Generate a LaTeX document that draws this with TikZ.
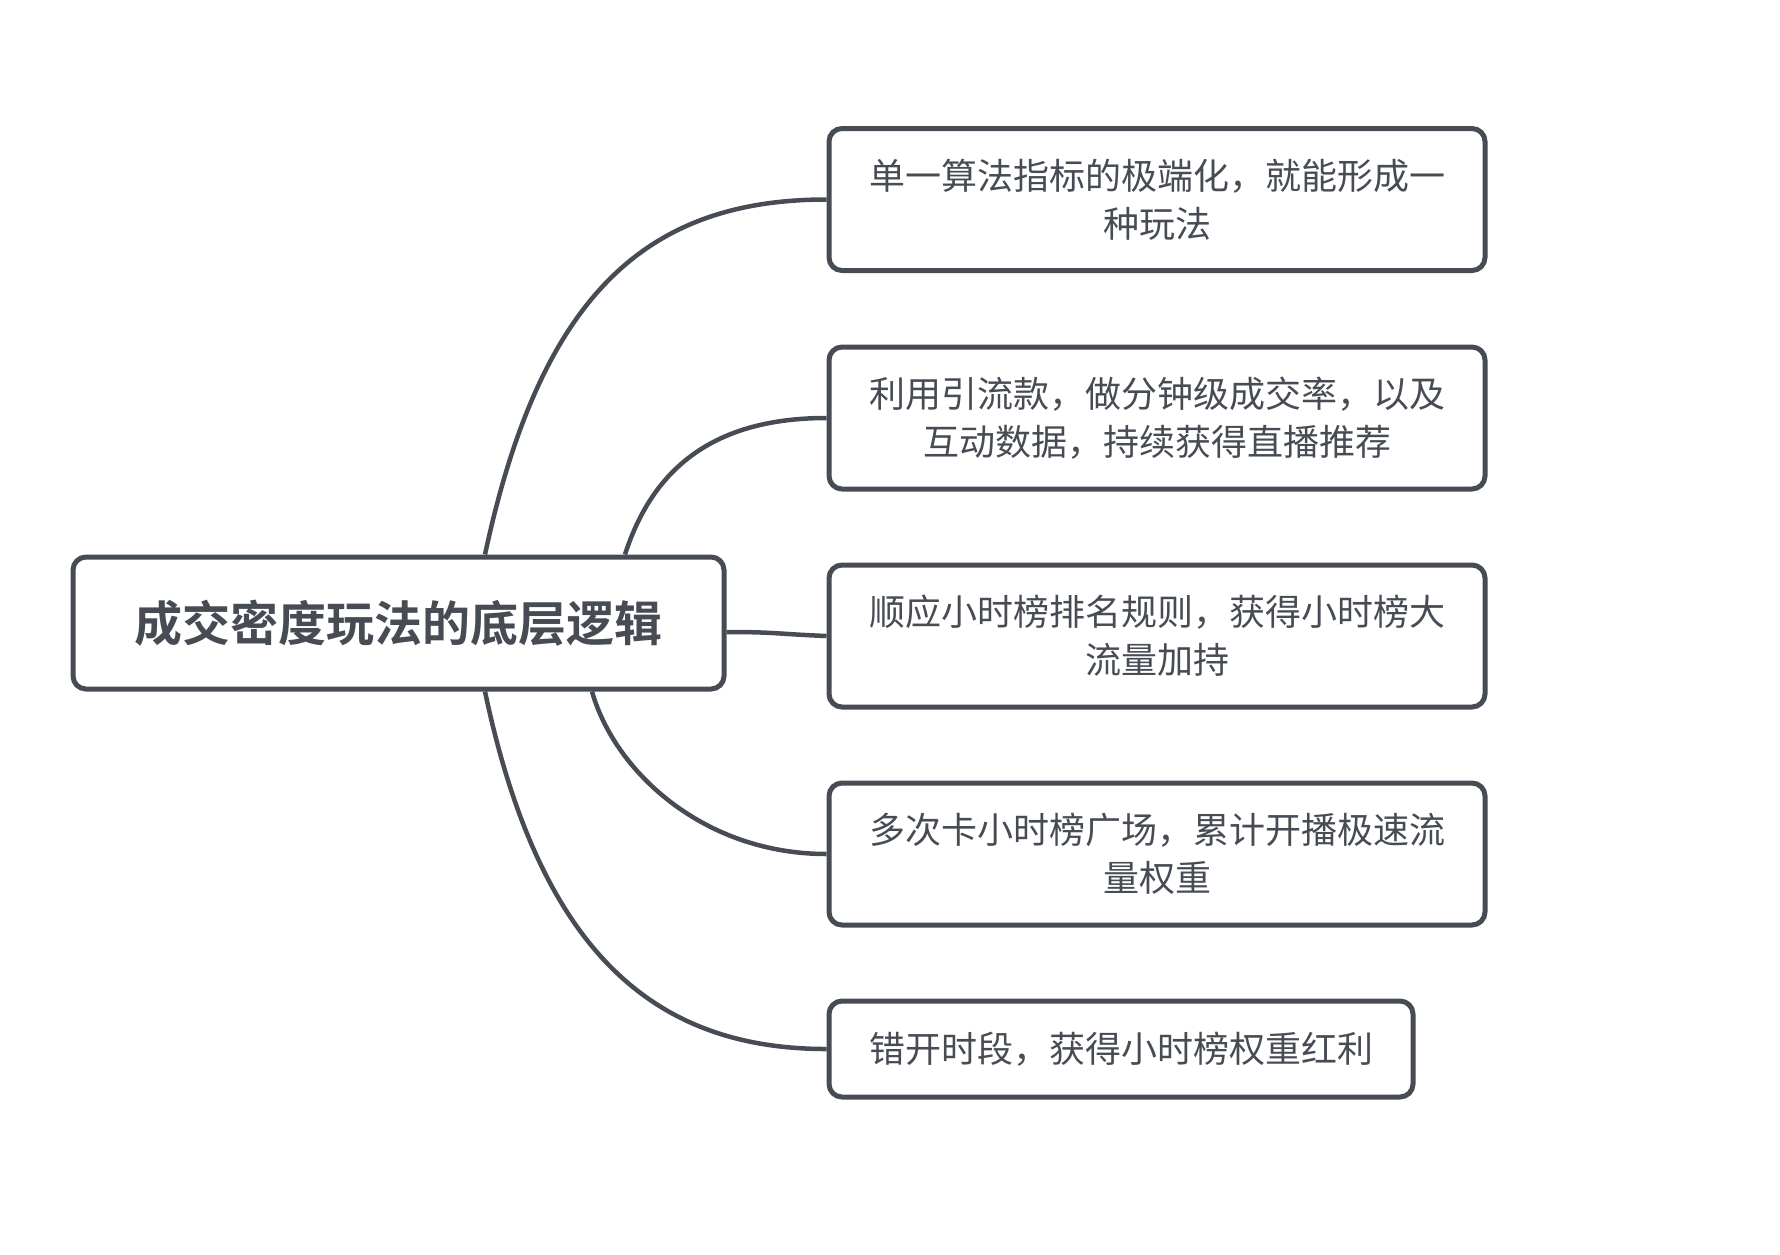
\documentclass[tikz,border=0pt]{standalone}
\usepackage{fontspec}
\setmainfont{Noto Sans CJK SC}
\newfontfamily\cjkbold{Noto Sans CJK SC Bold}
\definecolor{ink}{HTML}{474C54}
\begin{document}
\begin{tikzpicture}[x=1pt,y=-1pt,
  box/.style={draw=ink,line width=5pt,rounded corners=13pt,fill=white,
    inner sep=0pt,text=ink,align=center,
    font=\fontsize{36pt}{48pt}\selectfont},
  leaf/.style={box,minimum width=656pt,minimum height=142pt},
  link/.style={draw=ink,line width=4.5pt}]
\useasboundingbox (0,0) rectangle (1780,1254);
\node[box,minimum width=651pt,minimum height=132pt,
  font=\fontsize{48pt}{56pt}\cjkbold] (main) at (398.5,623) {成交密度玩法的底层逻辑};
\node[leaf] (b1) at (1157,199.5) {单一算法指标的极端化，就能形成一\\种玩法};
\node[leaf] (b2) at (1157,418) {利用引流款，做分钟级成交率，以及\\互动数据，持续获得直播推荐};
\node[leaf] (b3) at (1157,636) {顺应小时榜排名规则，获得小时榜大\\流量加持};
\node[leaf] (b4) at (1157,854) {多次卡小时榜广场，累计开播极速流\\量权重};
\node[box,minimum width=584pt,minimum height=96pt] (b5) at (1121,1049) {错开时段，获得小时榜权重红利};
\draw[link] ([xshift=86.5pt]main.north) .. controls +(55,-257) and +(-182,0) .. (b1.west);
\draw[link] ([xshift=226.5pt]main.north) .. controls +(28,-87) and +(-112,0) .. (b2.west);
\draw[link] ([yshift=-9pt]main.east) .. controls +(50,0) and +(-50,-2) .. (b3.west);
\draw[link] ([xshift=193.5pt]main.south) .. controls +(23,81) and +(-122,0) .. (b4.west);
\draw[link] ([xshift=86.5pt]main.south) .. controls +(55,261) and +(-172,0) .. (b5.west);
\end{tikzpicture}
\end{document}
